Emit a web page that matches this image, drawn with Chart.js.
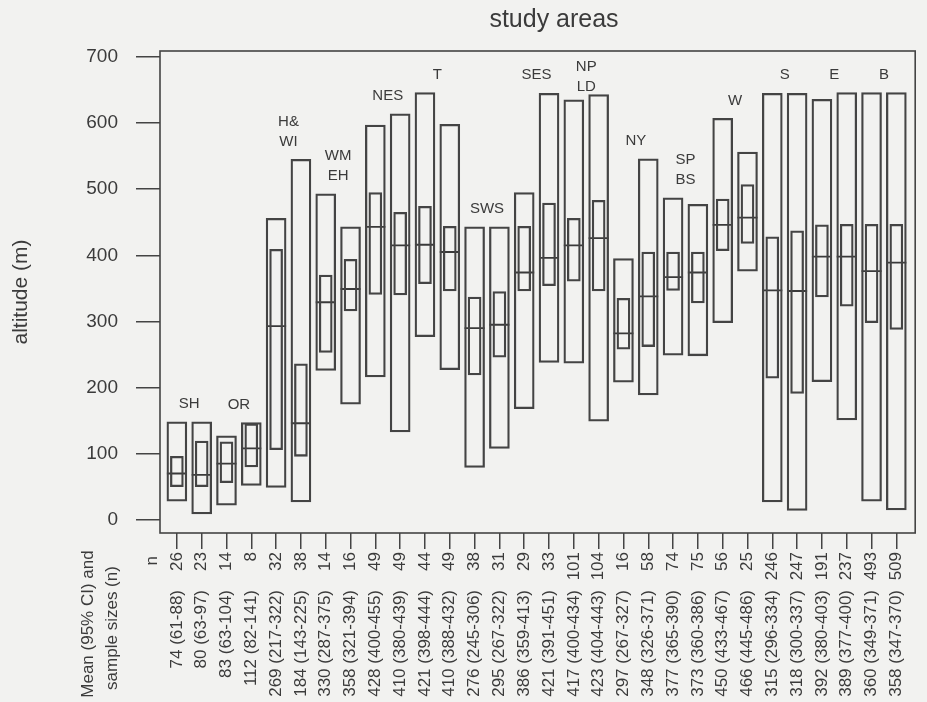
<!DOCTYPE html>
<html>
<head>
<meta charset="utf-8">
<script src="https://cdn.jsdelivr.net/npm/chart.js@4.4.1/dist/chart.umd.min.js"></script>
<style>
  html, body { margin: 0; padding: 0; background: #f2f2f0; }
  #wrap { width: 927px; height: 702px; }
</style>
</head>
<body>
<div id="wrap"><canvas id="areasChart" width="927" height="702"></canvas></div>
<script>
// sample sizes (n) per box, left to right
const sampleSizes = [26, 23, 14, 8, 32, 38, 14, 16, 49, 49, 44, 49, 38, 31, 29, 33,
    101, 104, 16, 58, 74, 75, 56, 25, 246, 247, 191, 237, 493, 509];

const meanLabels = [
    "74 (61-88)", "80 (63-97)", "83 (63-104)", "112 (82-141)", "269 (217-322)",
    "184 (143-225)", "330 (287-375)", "358 (321-394)", "428 (400-455)", "410 (380-439)",
    "421 (398-444)", "410 (388-432)", "276 (245-306)", "295 (267-322)", "386 (359-413)",
    "421 (391-451)", "417 (400-434)", "423 (404-443)", "297 (267-327)", "348 (326-371)",
    "377 (365-390)", "373 (360-386)", "450 (433-467)", "466 (445-486)", "315 (296-334)",
    "318 (300-337)", "392 (380-403)", "389 (377-400)", "360 (349-371)", "358 (347-370)"
];

// outer boxes (range)
const rangeMax = [148, 148, 127, 147, 456, 545, 493, 443, 597, 614, 646, 598, 443, 443, 495,
    645, 635, 643, 395, 546, 487, 477, 607, 556, 645, 645, 636, 646, 646, 646];
const rangeMin = [28, 9, 22, 52, 49, 27, 226, 175, 216, 133, 277, 227, 79, 108, 168,
    238, 237, 149, 208, 189, 249, 248, 298, 376, 27, 14, 209, 151, 28, 15];

// inner boxes and middle line
const innerHigh = [96, 119, 118, 145, 409, 236, 370, 394, 495, 465, 474, 444, 337, 345, 444,
    479, 456, 483, 335, 405, 405, 405, 485, 507, 428, 437, 446, 447, 447, 447];
const innerLow = [50, 50, 56, 80, 106, 96, 253, 316, 341, 340, 357, 346, 219, 246, 346,
    354, 361, 346, 258, 262, 347, 328, 407, 418, 214, 191, 337, 323, 298, 288];
const middles = [70, 68, 85, 108, 293, 146, 329, 349, 443, 415, 416, 405, 290, 295, 374,
    396, 415, 426, 282, 338, 367, 374, 446, 457, 347, 346, 398, 398, 376, 389];

// one name per pair of boxes
const areaNames = [["SH"], ["OR"], ["H&", "WI"], ["WM", "EH"], ["NES"], ["T"], ["SWS"], ["SES"],
    ["NP", "LD"], ["NY"], ["SP", "BS"], ["W"], ["S"], ["E"], ["B"]];

const yTicks = [0, 100, 200, 300, 400, 500, 600, 700];

const ink = "#444444";
const textInk = "#3b3b3b";
const fontFamily = "'Liberation Sans', Arial, sans-serif";

const positions = sampleSizes.map((_, i) => i + 1);

const paperAndLabels = {
    id: "paperAndLabels",
    beforeDraw(chart) {
        const ctx = chart.ctx;
        ctx.save();
        ctx.fillStyle = "#f2f2f0";
        ctx.fillRect(0, 0, chart.width, chart.height);
        ctx.restore();
    },
    afterDraw(chart) {
        const ctx = chart.ctx;
        const area = chart.chartArea;
        const xs = chart.scales.x;
        const ys = chart.scales.y;

        ctx.save();
        // frame
        ctx.strokeStyle = ink;
        ctx.lineWidth = 1.6;
        ctx.strokeRect(area.left, area.top, area.right - area.left, area.bottom - area.top);

        // title
        ctx.fillStyle = textInk;
        ctx.font = "25px " + fontFamily;
        ctx.textAlign = "center";
        ctx.textBaseline = "middle";
        ctx.fillText("study areas", 554, 20);

        // area names above each pair
        ctx.font = "15px " + fontFamily;
        areaNames.forEach((lines, g) => {
            const x = xs.getPixelForValue(2 * g + 1.5);
            const top = ys.getPixelForValue(Math.max(rangeMax[2 * g], rangeMax[2 * g + 1]));
            let last = top - 18;
            const first = last - (lines.length - 1) * 20;
            if (first < area.top + 16) last += area.top + 16 - first;
            lines.forEach((txt, k) => {
                ctx.fillText(txt, x, last - (lines.length - 1 - k) * 20);
            });
        });

        // rotated labels under the axis
        const rotText = (txt, x, y, align) => {
            ctx.save();
            ctx.translate(x, y);
            ctx.rotate(-Math.PI / 2);
            ctx.textAlign = align;
            ctx.textBaseline = "middle";
            ctx.fillText(txt, 0, 0);
            ctx.restore();
        };
        ctx.font = "17px " + fontFamily;
        meanLabels.forEach((txt, i) => {
            rotText(txt, xs.getPixelForValue(positions[i]), 590, "right");
        });
        rotText("n", xs.getPixelForValue(0), 556, "right");
        rotText("Mean (95% CI) and", 88, 624, "center");
        rotText("sample sizes (n)", 112, 628, "center");
        ctx.restore();
    }
};

const ctx = document.getElementById("areasChart").getContext("2d");
new Chart(ctx, {
    type: "bar",
    data: {
        datasets: [
            {
                label: "range",
                data: positions.map((p, i) => ({ x: p, y: [rangeMin[i], rangeMax[i]] })),
                backgroundColor: "rgba(0,0,0,0)",
                borderColor: ink,
                borderWidth: 1.6,
                borderSkipped: false,
                barThickness: 20,
                grouped: false
            },
            {
                label: "inner",
                data: positions.map((p, i) => ({ x: p, y: [innerLow[i], innerHigh[i]] })),
                backgroundColor: "rgba(0,0,0,0)",
                borderColor: ink,
                borderWidth: 1.6,
                borderSkipped: false,
                barThickness: 13,
                grouped: false
            },
            {
                type: "line",
                label: "middle",
                data: positions.map((p, i) => ({ x: p, y: middles[i] })),
                showLine: false,
                pointStyle: "line",
                pointRadius: 10,
                pointHoverRadius: 10,
                pointBorderWidth: 1.8,
                pointBorderColor: "#3a3a3a",
                borderColor: "#3a3a3a"
            }
        ]
    },
    options: {
        responsive: false,
        animation: false,
        layout: { padding: { top: 51, right: 5, left: 0, bottom: 0 } },
        plugins: {
            legend: { display: false },
            tooltip: { enabled: false }
        },
        scales: {
            x: {
                type: "linear",
                min: 0.32,
                max: 30.76,
                offset: false,
                afterBuildTicks: (s) => { s.ticks = positions.map(v => ({ value: v })); },
                afterFit: (s) => { s.height = 169; },
                grid: { display: true, offset: false, drawOnChartArea: false, drawTicks: true, tickLength: 16, color: ink, lineWidth: 1.5 },
                border: { display: false },
                ticks: {
                    autoSkip: false,
                    minRotation: 90,
                    maxRotation: 90,
                    padding: 3,
                    color: textInk,
                    font: { family: fontFamily, size: 17 },
                    callback: (v) => String(sampleSizes[Math.round(v) - 1])
                }
            },
            y: {
                min: -20,
                max: 709,
                afterBuildTicks: (s) => { s.ticks = yTicks.map(v => ({ value: v })); },
                afterFit: (s) => { s.width = 160; },
                grid: { display: true, drawOnChartArea: false, drawTicks: true, tickLength: 24, color: ink, lineWidth: 1.5 },
                border: { display: false },
                ticks: {
                    padding: 18,
                    color: textInk,
                    font: { family: fontFamily, size: 19 }
                },
                title: {
                    display: true,
                    text: "altitude (m)",
                    color: textInk,
                    font: { family: fontFamily, size: 21 },
                    padding: { top: 9, bottom: 0 }
                }
            }
        }
    },
    plugins: [paperAndLabels]
});
</script>
</body>
</html>
